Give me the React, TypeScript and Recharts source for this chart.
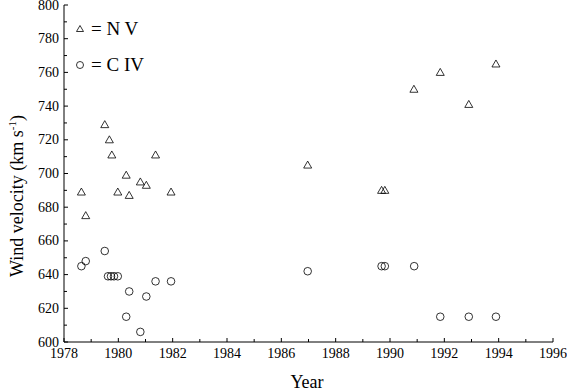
import { ScatterChart, Scatter, XAxis, YAxis } from 'recharts';

// N V (triangles)
const nvYears = [1978.64, 1978.8, 1979.5, 1979.67, 1979.76, 1979.98, 1980.29, 1980.4, 1980.81, 1981.03, 1981.37, 1981.94, 1986.97, 1989.69, 1989.81, 1990.88, 1991.85, 1992.9, 1993.9];
const nvVelocity = [689, 675, 729, 720, 711, 689, 699, 687, 695, 693, 711, 689, 705, 690, 690, 750, 760, 741, 765];

// C IV (circles)
const civYears = [1978.64, 1978.8, 1979.5, 1979.62, 1979.73, 1979.84, 1979.98, 1980.29, 1980.4, 1980.81, 1981.03, 1981.37, 1981.94, 1986.97, 1989.69, 1989.81, 1990.89, 1991.85, 1992.9, 1993.9];
const civVelocity = [645, 648, 654, 639, 639, 639, 639, 615, 630, 606, 627, 636, 636, 642, 645, 645, 645, 615, 615, 615];

const xTicks = [1978, 1979, 1980, 1981, 1982, 1983, 1984, 1985, 1986, 1987, 1988, 1989, 1990, 1991, 1992, 1993, 1994, 1995, 1996];
const yTicks = [600, 610, 620, 630, 640, 650, 660, 670, 680, 690, 700, 710, 720, 730, 740, 750, 760, 770, 780, 790, 800];

const nvData = nvYears.map((x, i) => ({ x, y: nvVelocity[i] }));
const civData = civYears.map((x, i) => ({ x, y: civVelocity[i] }));

const FONT = 'Liberation Serif, Times New Roman, serif';
const TICK_LEN = 4;

function Tri({ cx, cy }: any) {
  return (
    <path
      d={`M ${cx} ${cy - 4} L ${cx + 4} ${cy + 3} L ${cx - 4} ${cy + 3} Z`}
      fill="none"
      stroke="#000"
      strokeWidth={0.8}
    />
  );
}

function Circ({ cx, cy }: any) {
  return <circle cx={cx} cy={cy} r={3.8} fill="none" stroke="#000" strokeWidth={0.8} />;
}

function BottomTick({ x, y, payload }: any) {
  const v = payload.value;
  const major = v % 2 === 0;
  const axisY = y - 2;
  return (
    <g>
      <line x1={x} y1={axisY} x2={x} y2={axisY - (major ? TICK_LEN : 3)} stroke="#000" />
      {major && (
        <text x={x} y={axisY + 16} textAnchor="middle" fontFamily={FONT} fontSize={14} fill="#000">
          {v}
        </text>
      )}
    </g>
  );
}

function TopTick({ x, y, payload }: any) {
  const major = payload.value % 2 === 0;
  const axisY = y + 2;
  return <line x1={x} y1={axisY} x2={x} y2={axisY + (major ? TICK_LEN : 3)} stroke="#000" />;
}

function LeftTick({ x, y, payload }: any) {
  const v = payload.value;
  const major = v % 20 === 0;
  const axisX = x + 2;
  return (
    <g>
      <line x1={axisX} y1={y} x2={axisX + (major ? TICK_LEN : 3)} y2={y} stroke="#000" />
      {major && (
        <text x={axisX - 5} y={y + 4.5} textAnchor="end" fontFamily={FONT} fontSize={14} fill="#000">
          {v}
        </text>
      )}
    </g>
  );
}

function RightTick({ x, y, payload }: any) {
  const major = payload.value % 20 === 0;
  const axisX = x - 2;
  return <line x1={axisX} y1={y} x2={axisX - (major ? TICK_LEN : 3)} y2={y} stroke="#000" />;
}

function YLabel() {
  return (
    <text
      transform="translate(23,196) rotate(-90)"
      textAnchor="middle"
      fontFamily={FONT}
      fontSize={18}
      fill="#000"
    >
      Wind velocity (km s
      <tspan dy={-7} fontSize={11}>-1</tspan>
      <tspan dy={7}>)</tspan>
    </text>
  );
}

export default function App() {
  return (
    <div style={{ position: 'absolute', left: 0, top: 0, width: 567, height: 391, background: '#fff' }}>
      <ScatterChart width={567} height={391} margin={{ top: 5, right: 14, bottom: 0, left: 0 }}>
        <XAxis
          xAxisId="bottom"
          type="number"
          dataKey="x"
          domain={[1978, 1996]}
          ticks={xTicks}
          interval={0}
          height={49}
          tickLine={false}
          tickSize={0}
          tickMargin={2}
          stroke="#000"
          tick={<BottomTick />}
          allowDataOverflow
        />
        <XAxis
          xAxisId="top"
          orientation="top"
          type="number"
          dataKey="x"
          domain={[1978, 1996]}
          ticks={xTicks}
          interval={0}
          height={0}
          tickLine={false}
          tickSize={0}
          tickMargin={2}
          stroke="#000"
          tick={<TopTick />}
        />
        <YAxis
          yAxisId="left"
          type="number"
          dataKey="y"
          domain={[600, 800]}
          ticks={yTicks}
          interval={0}
          width={64}
          tickLine={false}
          tickSize={0}
          tickMargin={2}
          stroke="#000"
          tick={<LeftTick />}
          label={<YLabel />}
          allowDataOverflow
        />
        <YAxis
          yAxisId="right"
          orientation="right"
          type="number"
          dataKey="y"
          domain={[600, 800]}
          ticks={yTicks}
          interval={0}
          width={0}
          tickLine={false}
          tickSize={0}
          tickMargin={2}
          stroke="#000"
          tick={<RightTick />}
        />
        <Scatter
          name="N V"
          data={nvData}
          xAxisId="bottom"
          yAxisId="left"
          shape={<Tri />}
          isAnimationActive={false}
        />
        <Scatter
          name="C IV"
          data={civData}
          xAxisId="bottom"
          yAxisId="left"
          shape={<Circ />}
          isAnimationActive={false}
        />
        <g>
          <path d="M 80 25.5 L 83.5 31.5 L 76.5 31.5 Z" fill="none" stroke="#000" strokeWidth={0.8} />
          <text x={91} y={35} fontFamily={FONT} fontSize={19} fill="#000">= N V</text>
          <circle cx={80} cy={65} r={3.5} fill="none" stroke="#000" strokeWidth={0.8} />
          <text x={91} y={71} fontFamily={FONT} fontSize={19} fill="#000">= C IV</text>
        </g>
        <text x={307} y={388} textAnchor="middle" fontFamily={FONT} fontSize={18} fill="#000">
          Year
        </text>
      </ScatterChart>
    </div>
  );
}
